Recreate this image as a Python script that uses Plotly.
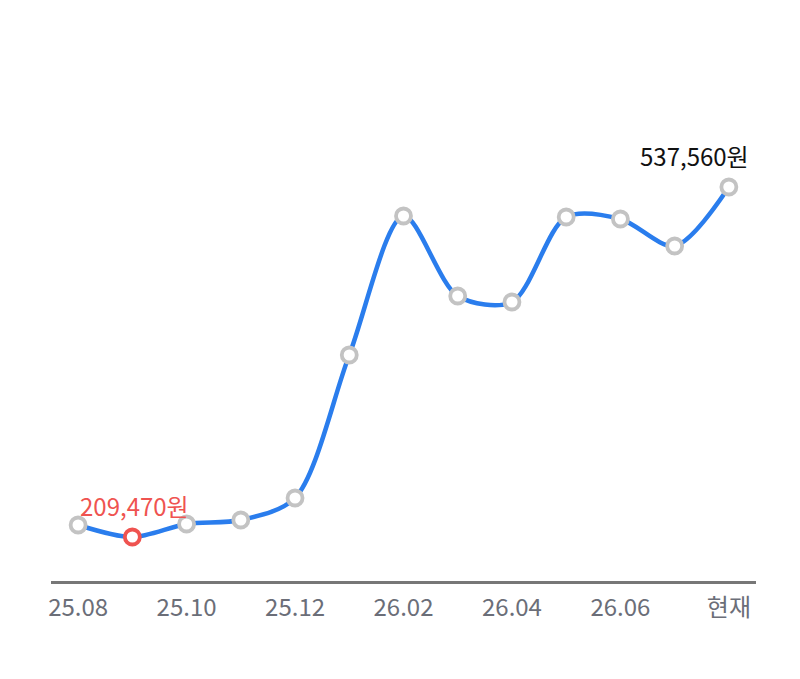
import plotly.graph_objects as go

categories = ["25.08", "25.09", "25.10", "25.11", "25.12", "26.01", "26.02",
              "26.03", "26.04", "26.05", "26.06", "26.07", "현재"]
values = [220720, 209470, 221660, 225410, 246030, 380080, 510370,
          435380, 429750, 509430, 507560, 482250, 537560]
tick_labels = ["25.08", "25.10", "25.12", "26.02", "26.04", "26.06", "현재"]

FONT = "Noto Sans CJK KR"
min_i = values.index(min(values))
max_i = values.index(max(values))
idx = list(range(len(categories)))
tick_idx = [categories.index(t) for t in tick_labels]

marker_colors = ["#ef5350" if i == min_i else "#c3c3c3" for i in idx]

fig = go.Figure()
fig.add_trace(go.Scatter(
    x=idx, y=values, mode="lines+markers",
    line=dict(color="#2a7ded", width=4.5, shape="spline", smoothing=0.85),
    marker=dict(size=15, color="white", line=dict(color=marker_colors, width=3.8)),
    hoverinfo="skip", showlegend=False,
))

fig.add_annotation(x=min_i, y=values[min_i],
                   text=f"{values[min_i]:,}원", showarrow=False,
                   yanchor="bottom", yshift=12, xshift=2,
                   font=dict(family=FONT, size=24, color="#ef5350"))
fig.add_annotation(x=max_i, y=values[max_i],
                   text=f"{values[max_i]:,}원", showarrow=False,
                   xanchor="right", yanchor="bottom", yshift=12, xshift=22,
                   font=dict(family=FONT, size=24, color="#111111"))

fig.update_layout(
    width=800, height=679,
    margin=dict(l=43, r=52, t=93, b=106),
    plot_bgcolor="white", paper_bgcolor="white",
    xaxis=dict(
        range=[-0.5, 12.5],
        tickmode="array", tickvals=tick_idx, ticktext=tick_labels,
        showgrid=False, zeroline=False,
        showline=True, linecolor="#777777", linewidth=2.5,
        ticks="", tickfont=dict(family=FONT, size=24, color="#6b6e78"),
        ticklabelstandoff=3,
    ),
    yaxis=dict(
        range=[168225, 618175], visible=False, showgrid=False, zeroline=False,
    ),
)

fig.write_html("out.html")
